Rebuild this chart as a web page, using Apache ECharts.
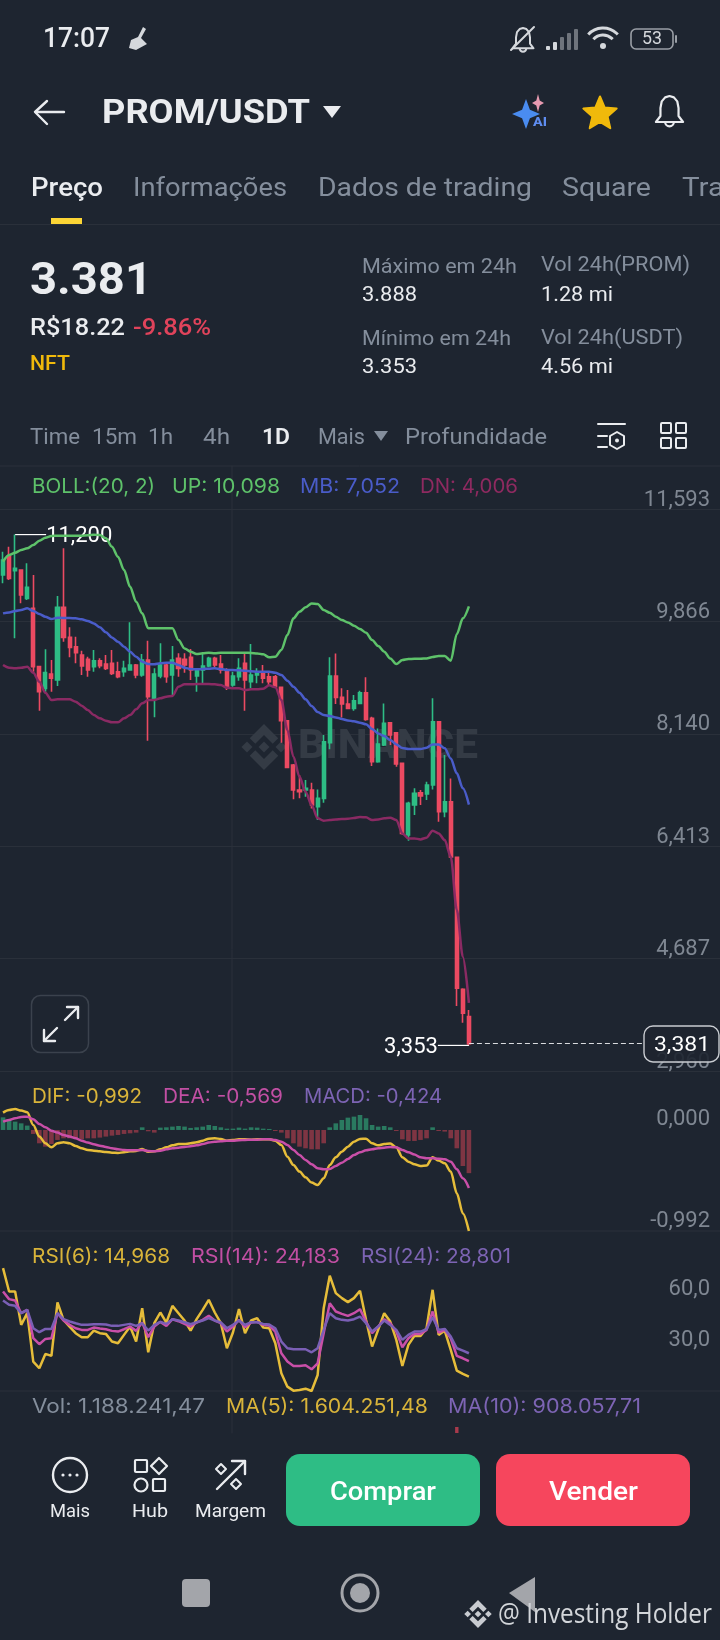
<!DOCTYPE html>
<html><head><meta charset="utf-8">
<style>html,body{margin:0;padding:0;background:#1e2530}#c{width:720px;height:1640px}</style>
<script src="https://cdn.jsdelivr.net/npm/echarts@6/dist/echarts.min.js"></script>
</head><body><div id="c"></div>
<script>
// [open, close, low, high]
const candles=[
[10.579,10.809,10.451,10.937],[10.861,10.528,10.502,11.014],[10.645,10.681,9.606,11.200],[10.656,10.272,10.144,10.656],[10.220,10.389,10.195,10.758],
[10.067,9.171,9.094,10.579],[9.171,8.787,8.495,9.171],[8.838,9.079,8.787,9.437],[9.058,8.992,8.787,9.273],[8.966,10.082,8.874,10.256],
[10.082,9.621,9.555,10.989],[9.621,9.468,9.314,9.775],[9.478,9.386,9.222,9.632],[9.350,9.181,9.043,9.417],[9.283,9.120,9.017,9.324],
[9.171,9.263,9.094,9.427],[9.263,9.186,9.145,9.299],[9.212,9.145,9.120,9.350],[9.222,9.068,9.043,9.427],[9.094,9.017,8.992,9.248],
[9.094,9.145,9.017,9.263],[9.120,9.196,9.109,9.852],[9.196,9.043,8.992,9.212],[9.043,9.273,9.017,9.365],[9.273,8.710,8.034,9.570],
[8.684,9.058,8.393,9.145],[9.027,9.196,8.992,9.529],[9.196,9.017,8.925,9.222],[9.043,9.273,8.736,9.488],[9.299,9.145,9.017,9.376],
[9.283,9.196,9.079,9.376],[9.314,9.120,8.966,9.442],[9.027,9.120,8.787,9.145],[9.120,9.181,8.905,9.376],[9.181,9.299,9.161,9.324],
[9.299,9.196,9.145,9.324],[9.212,9.120,9.068,9.350],[9.120,8.864,8.813,9.145],[8.889,9.027,8.864,9.094],[9.017,9.145,8.956,9.299],
[9.222,8.966,8.495,9.376],[8.941,9.043,8.838,9.519],[9.043,9.094,8.915,9.145],[9.094,8.992,8.915,9.196],[9.017,8.941,8.889,9.094],
[9.017,8.864,8.853,9.043],[8.853,8.341,8.003,8.853],[8.341,7.624,7.609,8.351],[7.660,7.276,7.133,7.675],[7.276,7.250,7.148,7.506],
[7.276,7.301,7.173,7.430],[7.276,7.046,6.994,7.389],[7.020,7.148,6.815,7.286],[7.148,8.018,7.081,8.121],[8.003,9.027,7.901,9.314],
[9.027,8.699,8.597,9.375],[8.699,8.597,8.392,8.838],[8.597,8.530,8.515,8.812],[8.530,8.648,8.495,8.735],[8.607,8.771,8.597,8.802],
[8.771,8.361,8.341,9.007],[8.377,7.711,7.645,8.402],[7.711,7.983,7.696,8.223],[7.967,8.300,7.952,8.607],[8.310,8.121,7.967,8.315],
[8.157,7.675,7.634,8.157],[7.686,6.610,6.585,7.686],[6.585,7.071,6.498,7.097],[7.046,7.225,6.892,7.302],[7.235,7.184,7.046,7.276],
[7.215,7.353,7.122,7.404],[7.353,8.326,7.286,8.684],[8.326,6.943,6.790,8.326],[6.943,7.097,6.856,7.814],[7.097,6.247,6.247,7.455],
[6.242,4.230,3.959,6.247],[4.215,3.846,3.703,4.230],[3.795,3.381,3.353,3.897]];
const bollUp=[10.784,10.886,10.922,10.963,10.989,11.040,11.106,11.152,11.178,11.183,11.183,11.183,11.183,11.183,11.188,11.198,11.193,11.142,11.014,10.861,10.656,10.400,10.169,9.990,9.760,9.760,9.762,9.760,9.760,9.580,9.452,9.401,9.365,9.376,9.386,9.376,9.386,9.386,9.386,9.386,9.386,9.381,9.375,9.360,9.314,9.324,9.427,9.657,9.913,10.015,10.082,10.143,10.133,10.041,10.000,9.939,9.887,9.851,9.800,9.749,9.693,9.580,9.488,9.401,9.298,9.211,9.273,9.288,9.293,9.293,9.298,9.319,9.334,9.334,9.263,9.672,9.913,10.098];
const bollMid=[9.990,10.005,10.026,10.041,10.067,10.026,9.980,9.939,9.903,9.924,9.918,9.918,9.913,9.898,9.872,9.836,9.775,9.698,9.621,9.555,9.478,9.401,9.324,9.248,9.212,9.207,9.222,9.232,9.232,9.196,9.155,9.135,9.130,9.135,9.140,9.145,9.135,9.120,9.120,9.115,9.109,9.099,9.094,9.094,9.094,9.079,9.043,8.955,8.863,8.771,8.669,8.566,8.474,8.428,8.413,8.392,8.367,8.346,8.331,8.310,8.285,8.213,8.146,8.105,8.044,7.977,7.921,7.906,7.906,7.906,7.926,7.977,7.977,7.916,7.762,7.532,7.302,7.052];
const bollDn=[9.196,9.155,9.145,9.155,9.171,9.079,8.940,8.771,8.659,8.669,8.669,8.669,8.633,8.572,8.505,8.428,8.377,8.341,8.316,8.316,8.377,8.428,8.515,8.608,8.659,8.659,8.684,8.710,8.720,8.864,8.900,8.900,8.905,8.905,8.905,8.900,8.889,8.848,8.838,8.838,8.813,8.823,8.823,8.833,8.884,8.853,8.658,8.198,7.788,7.481,7.250,7.046,6.841,6.805,6.815,6.825,6.830,6.835,6.846,6.861,6.856,6.815,6.825,6.841,6.851,6.815,6.610,6.533,6.533,6.518,6.544,6.651,6.610,6.508,6.253,5.433,4.716,4.006];
const macdHist=[.124,.105,.082,.065,.043,-.039,-.131,-.164,-.138,-.098,-.082,-.082,-.082,-.092,-.082,-.082,-.075,-.065,-.056,-.049,-.039,-.033,-.026,.026,-.013,-.026,.023,.026,.033,.039,.033,.020,.026,.033,.049,.039,.026,.013,.013,.023,.013,.026,.023,.013,.010,-.010,-.026,-.082,-.131,-.164,-.180,-.190,-.190,-.131,.026,.065,.098,.121,.131,.147,.115,.049,.033,.039,.026,-.010,-.092,-.108,-.108,-.098,-.082,.026,-.010,-.016,-.082,-.180,-.354,-.424];
const dif=[.170,.196,.206,.190,.174,.049,-.065,-.131,-.170,-.131,-.121,-.131,-.157,-.180,-.196,-.203,-.210,-.216,-.223,-.226,-.219,-.210,-.206,-.187,-.213,-.210,-.190,-.170,-.151,-.138,-.138,-.131,-.121,-.105,-.085,-.082,-.088,-.105,-.098,-.092,-.092,-.095,-.092,-.092,-.092,-.105,-.147,-.262,-.344,-.409,-.465,-.517,-.540,-.475,-.344,-.268,-.213,-.164,-.115,-.088,-.085,-.131,-.151,-.138,-.134,-.170,-.268,-.311,-.337,-.354,-.350,-.268,-.301,-.327,-.409,-.622,-.819,-.992];
const dea=[.082,.098,.115,.128,.131,.105,.059,.026,-.007,-.026,-.049,-.065,-.082,-.105,-.124,-.141,-.154,-.167,-.180,-.190,-.196,-.200,-.200,-.196,-.206,-.210,-.203,-.190,-.180,-.174,-.167,-.160,-.151,-.138,-.124,-.115,-.111,-.105,-.105,-.101,-.098,-.095,-.095,-.092,-.092,-.098,-.115,-.147,-.196,-.246,-.295,-.337,-.376,-.386,-.383,-.354,-.321,-.285,-.246,-.219,-.200,-.190,-.180,-.174,-.167,-.170,-.196,-.219,-.242,-.268,-.278,-.278,-.282,-.288,-.311,-.386,-.475,-.569];
const rsi6=[79.09,65.28,65.28,45.56,52.46,23.86,19.92,28.40,27.21,58.77,48.52,44.57,40.63,38.26,38.26,42.20,40.63,40.23,35.70,34.71,39.64,44.57,35.70,55.42,29.38,46.54,52.86,46.94,56.80,52.46,48.12,42.20,48.91,54.43,60.35,52.86,46.54,31.75,41.02,54.83,40.63,48.12,49.50,43.98,43.58,34.71,16.96,9.07,6.70,7.10,7.88,6.50,15.97,55.42,74.55,64.29,61.34,58.97,61.34,65.68,48.52,32.74,42.60,52.46,47.53,36.68,21.30,33.72,39.05,39.05,43.58,66.27,39.64,42.20,30.77,18.54,16.56,14.968];
const rsi14=[65.28,60.75,59.96,52.46,54.43,37.67,34.12,37.27,37.67,52.46,48.12,45.56,43.58,42.60,42.60,43.98,43.39,42.99,42.01,41.61,42.99,44.57,42.01,46.94,38.26,44.57,47.33,44.97,48.91,47.73,46.15,44.57,46.94,48.52,50.88,48.12,46.54,41.61,44.57,48.52,44.18,46.94,47.33,45.56,45.16,41.61,28.79,23.86,21.30,21.30,21.69,19.33,22.87,40.63,58.38,53.45,52.07,50.88,52.46,54.83,47.53,40.63,44.57,48.91,46.54,41.61,32.34,37.67,40.23,40.23,42.60,53.45,41.02,42.60,37.67,27.21,25.83,24.183];
const rsi24=[59.96,57.39,56.80,52.46,54.43,43.58,41.22,43.19,43.19,52.46,48.91,47.53,46.54,45.56,45.56,45.95,45.95,45.75,44.97,44.97,45.56,46.15,44.97,46.54,42.20,45.56,47.33,46.15,48.91,48.12,47.13,45.95,47.13,48.12,49.50,48.12,46.94,43.58,45.56,48.12,45.56,47.13,47.13,46.15,45.75,43.58,35.70,31.75,31.16,31.16,31.16,29.38,31.75,42.60,52.46,49.50,48.52,48.12,48.91,50.49,46.54,41.61,44.57,48.12,45.56,42.60,36.68,39.64,41.61,41.61,42.99,50.09,42.60,43.19,38.65,31.75,30.37,28.801];
// only the tip of one volume bar shows above the bottom bar
const volume={75:1};
const priceTicks=[2.960,4.687,6.413,8.140,9.866,11.593];
const macdTicks=[-0.992,0];
const rsiTicks=[30,60];
const categories=[];for(let i=0;i<119;i++)categories.push(String(i));

const BG='#1e2530',GRAY='#848e9c',WHITE='#eaecef',UPC='#2ebd85',DNC='#ec4a62',GRID='#2a303a';
const mc=document.createElement('canvas').getContext('2d');
const g=[];
function T(text,x,y,size,color,w,weight,family,z){
  const font=(weight||400)+' '+size+'px '+(family||'Roboto');
  mc.font=font;let s=1;if(w)s=w/mc.measureText(text).width;
  y+=family==='Inter'?1:(family?0:2);
  g.push({type:'text',x:x,y:y,scaleX:s,z:z||50,silent:true,style:{text:text,fill:color,font:font,textVerticalAlign:'middle',textAlign:'left'}});
}
function L(x1,y1,x2,y2,c,w,z){g.push({type:'line',z:z||50,silent:true,shape:{x1,y1,x2,y2},style:{stroke:c,lineWidth:w||2,lineCap:'round'}});}
function R(x,y,w,h,r,fill,stroke,lw,z){g.push({type:'rect',z:z||50,silent:true,shape:{x,y,width:w,height:h,r:r||0},style:{fill:fill||'none',stroke:stroke||'none',lineWidth:lw||0}});}
function C(cx,cy,r,fill,stroke,lw){g.push({type:'circle',z:50,silent:true,shape:{cx,cy,r},style:{fill:fill||'none',stroke:stroke||'none',lineWidth:lw||0}});}
function P(points,fill,stroke,lw,z){g.push({type:'polygon',z:z||50,silent:true,shape:{points},style:{fill:fill||'none',stroke:stroke||'none',lineWidth:lw||0,lineJoin:'round'}});}
function PL(points,stroke,lw){g.push({type:'polyline',z:50,silent:true,shape:{points},style:{fill:'none',stroke,lineWidth:lw||2,lineJoin:'round',lineCap:'round'}});}
function D(cx,cy,r,fill,stroke,lw,z){P([[cx,cy-r],[cx+r,cy],[cx,cy+r],[cx-r,cy]],fill,stroke,lw,z);}
function spark(cx,cy,rx,ry,fill){const k=.28;P([[cx,cy-ry],[cx+rx*k,cy-ry*k],[cx+rx,cy],[cx+rx*k,cy+ry*k],[cx,cy+ry],[cx-rx*k,cy+ry*k],[cx-rx,cy],[cx-rx*k,cy-ry*k]],fill);}
function bell(x,y,w,h,c,lw){
  const u=[[12,0],[8.6,1],[6,4],[5,9],[5,15],[1.5,19.5],[22.5,19.5],[19,15],[19,9],[18,4],[15.4,1]];
  P(u.map(p=>[x+p[0]*w/24,y+p[1]*h/24]),'none',c,lw);
  g.push({type:'arc',z:50,silent:true,shape:{cx:x+w/2,cy:y+19.5*h/24,r:w*.14,startAngle:0,endAngle:Math.PI},style:{stroke:c,lineWidth:lw,fill:'none'}});
}
function logo(cx,cy,r,c,z){
  D(cx,cy,r*.24,c,null,0,z);D(cx-r*.74,cy,r*.24,c,null,0,z);D(cx+r*.74,cy,r*.24,c,null,0,z);
  P([[cx,cy-r],[cx+r*.62,cy-r*.38],[cx+r*.38,cy-r*.14],[cx,cy-r*.52],[cx-r*.38,cy-r*.14],[cx-r*.62,cy-r*.38]],c,null,0,z);
  P([[cx,cy+r],[cx+r*.62,cy+r*.38],[cx+r*.38,cy+r*.14],[cx,cy+r*.52],[cx-r*.38,cy+r*.14],[cx-r*.62,cy+r*.38]],c,null,0,z);
}
// status bar
T('17:07',43,38,28,WHITE,67,500);
P([[143,27],[146,29],[141,38],[147,44],[136,50],[129,48],[131,40],[138,37]],'#d5d8dc');
bell(511,28,24,25,'#d5d8dc',2);
L(511,50,534,27,'#d5d8dc',2);
[[546,46,4],[553,42,8],[560,37,13],[567,33,17],[574,29,21]].forEach((b,i)=>R(b[0],b[1],4,b[2],1,i<2?'#d5d8dc':'#6f747c'));
g.push({type:'arc',z:50,silent:true,shape:{cx:603,cy:48,r:20,startAngle:-2.4,endAngle:-.74},style:{stroke:'#d5d8dc',lineWidth:3,fill:'none'}});
g.push({type:'arc',z:50,silent:true,shape:{cx:603,cy:48,r:13,startAngle:-2.4,endAngle:-.74},style:{stroke:'#d5d8dc',lineWidth:3,fill:'none'}});
C(603,46,3,'#d5d8dc');
R(631,29,42,20,5,'none','#9a9fa6',1.6);T('53',642,37,18,'#d5d8dc',20);R(675,35,2,8,1,'#9a9fa6');
// header
L(36,112,64,112,WHITE,2.4);PL([[47,101],[35,112],[47,124]],WHITE,2.4);
T('PROM/USDT',102,113,33,WHITE,208,700);
P([[323,106],[341,106],[332,118]],WHITE);
spark(526,114,14,15,'#4a8cf0');spark(538,103,6,9,'#e79ab0');T('AI',533,121,12,'#5f8df0',14,800);
(function(){const p=[];for(let i=0;i<10;i++){const a=-Math.PI/2+i*Math.PI/5,r=i%2?8:17.5;p.push([600+r*Math.cos(a),114+r*Math.sin(a)]);}P(p,'#f0b90b','#f0b90b',2);})();
bell(654,96,31,32,WHITE,2.2);
// tabs
T('Preço',31,187,26,WHITE,72,500);
T('Informações',133,187,26,GRAY,154);T('Dados de trading',318,187,26,GRAY,214);T('Square',562,187,26,GRAY,89);T('Tra',682,187,26,GRAY,42);
R(51,218,31,6,0,'#fcd535');L(0,224.5,720,224.5,GRID,1);
// price block
T('3.381',30,281,44,WHITE,122,700);
T('R$18.22',30,327,24,WHITE,95,500);T('-9.86%',133,327,24,'#e0435b',78,500);T('NFT',30,363,21,'#f0b90b',40,500);
T('Máximo em 24h',362,266,21,GRAY,155);T('3.888',362,294,21,WHITE,55);
T('Mínimo em 24h',362,338,21,GRAY,149);T('3.353',362,366,21,WHITE,55);
T('Vol 24h(PROM)',541,264,21,GRAY,149);T('1.28 mi',541,294,21,WHITE,72);
T('Vol 24h(USDT)',541,337,21,GRAY,142);T('4.56 mi',541,366,21,WHITE,72);
// interval row
[['Time',30,50],['15m',92,45],['1h',148,25],['4h',203,27],['Mais',318,47],['Profundidade',405,142]].forEach(a=>T(a[0],a[1],436,22,GRAY,a[2]));
T('1D',262,436,22,WHITE,28,600);P([[374,431],[388,431],[381,441]],GRAY);
L(598,424,625,424,WHITE,2);L(598,436,607,436,WHITE,2);L(598,447,607,447,WHITE,2);
P([[617,432],[624,436],[624,445],[617,449],[610,445],[610,436]],'none',WHITE,2);C(617,440.5,2,WHITE);
[[661,423],[676,423],[661,438],[676,438]].forEach(a=>R(a[0],a[1],10,10,1,'none',WHITE,2));
L(0,466,720,466,GRID,1);L(232,466,232,1433,GRID,1,1);
L(0,1231,720,1231,GRID,1,1);L(0,1391,720,1391,GRID,1,1);
// watermark
logo(264,747,23,'#343b45',1);
T('BINANCE',298,746,40,'#343b45',180,800,null,1);
// legends
T('BOLL:(20, 2)',32,486,20,'#5ec26a',123,400,'Inter');T('UP: 10,098',172,486,20,'#5ec26a',108,400,'Inter');T('MB: 7,052',300,486,20,'#4a5cc9',100,400,'Inter');T('DN: 4,006',420,486,20,'#8e2a60',98,400,'Inter');
T('DIF: -0,992',32,1096,20,'#d9b43a',110,400,'Inter');T('DEA: -0,569',163,1096,20,'#c14fa3',120,400,'Inter');T('MACD: -0,424',304,1096,20,'#7d64b4',138,400,'Inter');
T('RSI(6): 14,968',32,1256,20,'#d9b43a',138,400,'Inter');T('RSI(14): 24,183',191,1256,20,'#c14fa3',149,400,'Inter');T('RSI(24): 28,801',361,1256,20,'#7d64b4',150,400,'Inter');
T('Vol: 1.188.241,47',32,1406,20,GRAY,173,400,'Inter');T('MA(5): 1.604.251,48',226,1406,20,'#d9b43a',202,400,'Inter');T('MA(10): 908.057,71',448,1406,20,'#7d64b4',193,400,'Inter');
// expand button
R(31.5,995.5,57,57,9,BG,'#3b424d',1.5);
L(44,1041,57,1028,WHITE,2.4);PL([[44,1030],[44,1041],[55,1041]],WHITE,2.4);L(78,1007,65,1020,WHITE,2.4);PL([[67,1007],[78,1007],[78,1018]],WHITE,2.4);
// last price box
R(644,1026,75,36,9,'rgba(30,37,48,.9)','#c9ccd1',1.4,60);T('3,381',654,1044,21,'#ffffff',56,400,null,61);
// bottom bar
R(0,1434,720,206,0,BG,null,0,40);
C(70,1475,17,'none',WHITE,2.4);[63,70,77].forEach(x=>C(x,1475,1.6,WHITE));
T('Mais',50,1510,18,WHITE,40);T('Hub',132,1510,18,WHITE,36);T('Margem',195,1510,18,WHITE,71);
R(135,1460,12,12,1,'none',WHITE,2.2);D(159,1466,8,'none',WHITE,2.2);C(141,1485,6.5,'none',WHITE,2.2);R(153,1479,12,12,1,'none',WHITE,2.2);
L(217,1489,245,1461,WHITE,2.4);PL([[232,1461],[245,1461],[245,1474]],WHITE,2.4);D(221,1469,5,'none',WHITE,2);D(236,1484,5,'none',WHITE,2);
R(286,1454,194,72,14,'#2ebd85');T('Comprar',330,1491,26,'#ffffff',106,500);
R(496,1454,194,72,14,'#f6465d');T('Vender',549,1491,26,'#ffffff',89,500);
R(182,1579,28,28,4,'#a3a5aa');C(360,1593,18,'none','#a3a5aa',3);C(360,1593,10,'#a3a5aa');
P([[535,1577],[535,1612],[509,1593]],'#a3a5aa',null,0,45);
logo(478,1614,14,'#c8cbd0',51);
T('@ Investing Holder',498,1615,27,'#d3d6da',214,400,'Open Sans',52);

const axisText={color:'#7f8792',fontFamily:'Roboto',fontSize:22};
function yAxis(grid,min,max,ticks,fmt,lines,lh){return {type:'value',gridIndex:grid,position:'right',min,max,scale:true,
  axisLine:{show:false},axisTick:{show:false,customValues:ticks},
  axisLabel:Object.assign({show:true,inside:true,margin:10,verticalAlign:'bottom',lineHeight:lh,customValues:ticks,formatter:fmt,showMinLabel:true,showMaxLabel:true},axisText),
  splitLine:{show:lines,lineStyle:{color:GRID,width:1}}};}
function xAxis(grid){return {type:'category',gridIndex:grid,data:categories,boundaryGap:true,axisLine:{show:false},axisTick:{show:false},axisLabel:{show:false},splitLine:{show:false}};}
function line(name,data,x,color,smooth,w){return {name,type:'line',xAxisIndex:x,yAxisIndex:x,data,showSymbol:false,symbol:'none',smooth:smooth,smoothMonotone:'x',lineStyle:{color,width:w||2.5},z:5,silent:true,animation:false};}
const gridBox=(top,h)=>({left:-0.7,width:722.3,top,height:h});
const fmt3=v=>v.toFixed(3).replace('.',',');
const chart=echarts.init(document.getElementById('c'),null,{renderer:'canvas',width:720,height:1640});
const ptStyle={show:true,color:'#ffffff',fontFamily:'Roboto',fontSize:22,offset:[0,2]};
chart.setOption({animation:false,backgroundColor:BG,
 grid:[gridBox(509,562),gridBox(1071,160),gridBox(1231,160),gridBox(1391,42)],
 xAxis:[xAxis(0),xAxis(1),xAxis(2),xAxis(3)],
 yAxis:[yAxis(0,2.96,11.593,priceTicks,fmt3,true,18),yAxis(1,-0.992,0.579,macdTicks,fmt3,false,20),
  yAxis(2,6.5,101,rsiTicks,v=>v.toFixed(1).replace('.',','),false,22),
  {type:'value',gridIndex:3,min:0,max:7,show:false}],
 series:[
  {name:'K',type:'candlestick',data:candles,barWidth:3.6,silent:true,z:3,
   itemStyle:{color:UPC,color0:DNC,borderColor:UPC,borderColor0:DNC,borderWidth:1.6},
   markPoint:{silent:true,animation:false,data:[
    {coord:[2,11.2],symbol:'rect',symbolSize:[31,1.2],symbolOffset:[15.5,0],itemStyle:{color:'#fff'},label:Object.assign({position:'right',distance:0,formatter:'11,200'},ptStyle)},
    {coord:[77,3.353],symbol:'rect',symbolSize:[31,1.2],symbolOffset:[-15.5,0],itemStyle:{color:'#fff'},label:Object.assign({position:'left',distance:0,formatter:'3,353'},ptStyle)}]},
   markLine:{silent:true,animation:false,symbol:'none',label:{show:false},lineStyle:{color:'#d9dbde',type:[5,3],width:1},data:[[{coord:[77,3.381]},{coord:[106,3.381]}]]}},
  line('UP',bollUp,0,'#5ec26a',.3),line('MB',bollMid,0,'#4a5cc9',.3),line('DN',bollDn,0,'#8a2a63',.3),
  {name:'MACD',type:'bar',xAxisIndex:1,yAxisIndex:1,data:macdHist,barWidth:4.6,silent:true,z:3,itemStyle:{color:p=>p.value>=0?'#2a7a60':'#7e3543'}},
  line('DIF',dif,1,'#e6bd3a',.3),line('DEA',dea,1,'#c94fa8',.3),
  line('RSI6',rsi6,2,'#e6bd3a',false),line('RSI14',rsi14,2,'#c94fa8',false),line('RSI24',rsi24,2,'#7a5fb5',false),
  {name:'Vol',type:'bar',xAxisIndex:3,yAxisIndex:3,barWidth:3.4,silent:true,data:categories.map((c,i)=>volume[i]==null?null:volume[i]),itemStyle:{color:'#a83a4c'}}
 ],
 graphic:{elements:g}
});
</script></body></html>
